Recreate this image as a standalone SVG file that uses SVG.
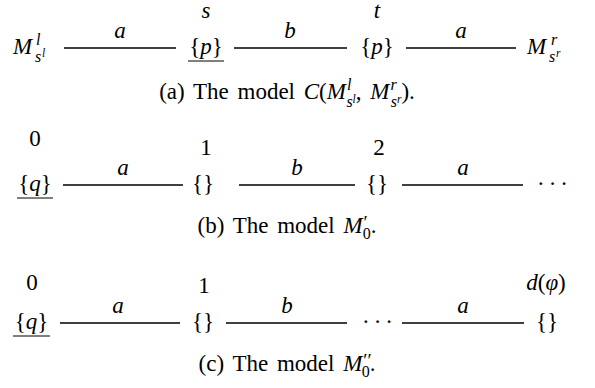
<svg xmlns="http://www.w3.org/2000/svg" width="595" height="388" viewBox="0 0 595 388">
<style>
.r{font-family:"Liberation Serif",serif;font-size:23px;fill:#000}
.i{font-style:italic}
.s1{font-size:16px}
.s2{font-size:11.5px}
.pr{font-size:19px}
.cap{font-family:"Liberation Serif",serif;font-size:23px;fill:#000;text-anchor:middle;word-spacing:3px}
.e{stroke:#000;stroke-width:1.6;fill:none}
.u{stroke:#000;stroke-width:1;fill:none}
.mid{text-anchor:middle}
</style>
<rect width="595" height="388" fill="#fff"/>

<!-- (a) -->
<g id="a-connectors">
<line class="e" x1="64" y1="48" x2="176" y2="48"/>
<line class="e" x1="234" y1="48" x2="347" y2="48"/>
<line class="e" x1="406" y1="48" x2="516" y2="48"/>
<text class="r i mid" x="120" y="38">a</text>
<text class="r i mid" x="290" y="38">b</text>
<text class="r i mid" x="461" y="38">a</text>
</g>
<g id="a-Ml">
<text class="r i" x="13" y="54">M</text>
<text class="r i s1" x="36" y="45">l</text>
<text class="r i s1" x="35" y="62">s</text>
<text class="r i s2" x="42" y="57">l</text>
</g>
<g id="a-s">
<text class="r i mid" x="206" y="18">s</text>
<text class="r mid" x="206" y="54">{<tspan class="i">p</tspan>}</text>
<line class="u" x1="188" y1="61" x2="224" y2="61"/>
</g>
<g id="a-t">
<text class="r i mid" x="377" y="18">t</text>
<text class="r mid" x="377" y="54">{<tspan class="i">p</tspan>}</text>
</g>
<g id="a-Mr">
<text class="r i" x="527" y="54">M</text>
<text class="r i s1" x="551" y="45">r</text>
<text class="r i s1" x="549" y="62">s</text>
<text class="r i s2" x="556" y="57">r</text>
</g>
<text class="cap" x="287" y="99">(a) The model <tspan class="i">C</tspan>(<tspan class="i">M</tspan><tspan class="i s1" dx="1" dy="-9">l</tspan><tspan class="i s1" dx="-5" dy="17">s</tspan><tspan class="i s2" dy="-4">l</tspan><tspan dy="-4">, </tspan><tspan class="i">M</tspan><tspan class="i s1" dx="1" dy="-9">r</tspan><tspan class="i s1" dx="-6" dy="17">s</tspan><tspan class="i s2" dy="-4">r</tspan><tspan dy="-4">).</tspan></text>

<!-- (b) -->
<g id="b-connectors">
<line class="e" x1="63" y1="185" x2="183" y2="185"/>
<line class="e" x1="239" y1="185" x2="355" y2="185"/>
<line class="e" x1="402" y1="185" x2="523" y2="185"/>
<text class="r i mid" x="123" y="175">a</text>
<text class="r i mid" x="297" y="175">b</text>
<text class="r i mid" x="463" y="175">a</text>
</g>
<g id="b-0">
<text class="r mid" x="35" y="146">0</text>
<text class="r mid" x="35" y="191">{<tspan class="i">q</tspan>}</text>
<line class="u" x1="17" y1="198" x2="53" y2="198"/>
</g>
<g id="b-1">
<text class="r mid" x="206" y="155">1</text>
<text class="r mid" x="203" y="191">{}</text>
</g>
<g id="b-2">
<text class="r mid" x="379" y="155">2</text>
<text class="r mid" x="377" y="191">{}</text>
</g>
<g id="b-dots">
<text class="r" x="537" y="191" letter-spacing="4">···</text>
</g>
<text class="cap" x="287" y="233">(b) The model <tspan class="i">M</tspan><tspan class="pr" dx="1" dy="-4">′</tspan><tspan class="s1" dx="-5" dy="10">0</tspan><tspan dy="-6">.</tspan></text>

<!-- (c) -->
<g id="c-connectors">
<line class="e" x1="60" y1="323" x2="180" y2="323"/>
<line class="e" x1="226" y1="323" x2="347" y2="323"/>
<line class="e" x1="402" y1="323" x2="524" y2="323"/>
<text class="r i mid" x="118" y="313">a</text>
<text class="r i mid" x="287" y="313">b</text>
<text class="r i mid" x="463" y="313">a</text>
</g>
<g id="c-0">
<text class="r mid" x="32" y="290">0</text>
<text class="r mid" x="31.5" y="329">{<tspan class="i">q</tspan>}</text>
<line class="u" x1="13" y1="336" x2="50" y2="336"/>
</g>
<g id="c-1">
<text class="r mid" x="204" y="293">1</text>
<text class="r mid" x="203" y="329">{}</text>
</g>
<g id="c-dots">
<text class="r" x="362" y="329" letter-spacing="4">···</text>
</g>
<g id="c-d">
<text class="r mid" x="546" y="290"><tspan class="i">d</tspan>(<tspan class="i">φ</tspan>)</text>
<text class="r mid" x="547" y="329">{}</text>
</g>
<text class="cap" x="287" y="371">(c) The model <tspan class="i">M</tspan><tspan class="pr" dx="1" dy="-4">′′</tspan><tspan class="s1" dx="-10" dy="10">0</tspan><tspan dy="-6">.</tspan></text>
</svg>
